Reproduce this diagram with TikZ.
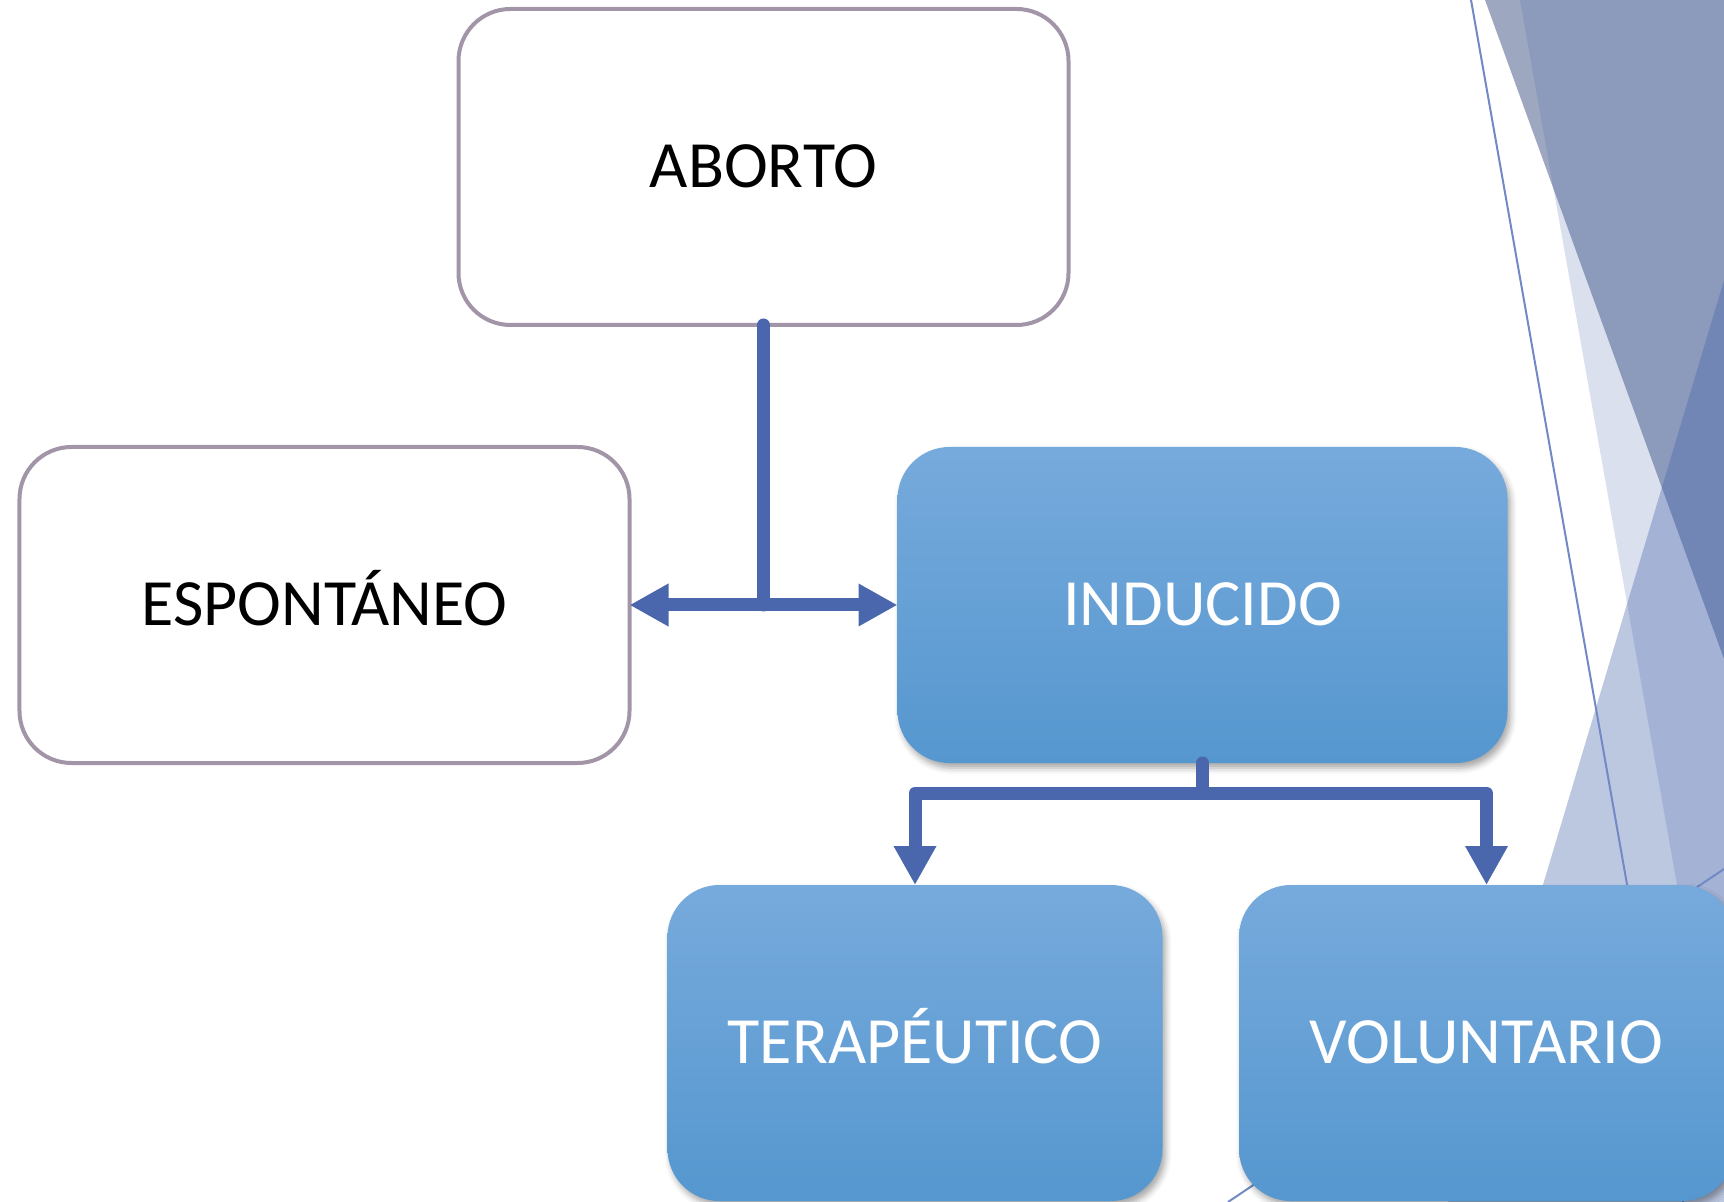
\documentclass[tikz,border=0pt]{standalone}
\usepackage{fontspec}
\setmainfont{Carlito}
\usetikzlibrary{shapes,positioning,calc,arrows.meta,shadows.blur}

\definecolor{linkblue}{HTML}{4A67AD}
\definecolor{boxedge}{HTML}{A395A8}
\definecolor{boxtop}{HTML}{77AADC}
\definecolor{boxbottom}{HTML}{5597CF}
\definecolor{slate}{HTML}{3C5082}
\definecolor{steel}{HTML}{4664AA}
\definecolor{hairline}{HTML}{7289C6}

\begin{document}
\begin{tikzpicture}[font=\fontsize{18.8}{22}\selectfont,
		text height=11.9pt,
		text depth=0pt,
		outer sep=0pt,
		whitebox/.style={draw=boxedge,
			line width=0.04cm,
			fill=white,
			rounded corners=0.52cm,
			minimum width=6.1cm,
			minimum height=3.16cm},
		bluebox/.style={rounded corners=0.52cm,
			top color=boxtop,
			bottom color=boxbottom,
			text=white,
			minimum height=3.16cm,
			blur shadow={shadow xshift=0.03cm, shadow yshift=-0.05cm,
				shadow blur radius=0.06cm, shadow opacity=35}},
		conn/.style={draw=linkblue, line width=0.13cm},
		headed/.style={-{Triangle[length=0.39cm,width=0.4cm]}},
		hair/.style={draw=hairline, line width=0.02cm}]

		\useasboundingbox (0,0) rectangle (17.24,-12.02);

		% background triangles on the right
		\fill[slate, fill opacity=0.5] (14.85,0) -- (17.24,0) -- (17.24,-6.59) -- cycle;
		\fill[steel, fill opacity=0.2] (15.20,0) -- (17.24,0) -- (17.24,-11.50) -- cycle;
		\fill[steel, fill opacity=0.36] (17.24,-2.80) -- (14.48,-12.02) -- (17.24,-12.02) -- cycle;
		\draw[hair] (14.71,0) -- (16.83,-12.02);
		\draw[hair] (12.28,-12.02) -- (17.24,-8.69);

		\node[whitebox] (aborto) at (7.635,-1.67) {ABORTO};

		\node[whitebox,
			below=1.22cm of aborto,
			xshift=-4.39cm] (espontaneo) {ESPONTÁNEO};

		\node[bluebox,
			below=1.22cm of aborto,
			xshift=4.39cm,
			minimum width=6.1cm] (inducido) {INDUCIDO};

		\node[bluebox,
			below=1.22cm of inducido,
			xshift=-2.875cm,
			minimum width=4.95cm] (terapeutico) {TERAPÉUTICO};

		\node[bluebox,
			below=1.22cm of inducido,
			xshift=2.84cm,
			minimum width=4.95cm] (voluntario) {VOLUNTARIO};

		\draw[conn, line cap=round] (aborto.south) -- (aborto.south |- espontaneo.east);
		\draw[conn, {Triangle[length=0.39cm,width=0.4cm]}-{Triangle[length=0.39cm,width=0.4cm]}]
		(espontaneo.east) -- (inducido.west);

		\draw[conn, line cap=round] (inducido.south) -- ++(0,-0.30) coordinate (fork);
		\draw[conn, headed, line join=round] (fork) -| (terapeutico.north);
		\draw[conn, headed, line join=round] (fork) -| (voluntario.north);

	\end{tikzpicture}
\end{document}
